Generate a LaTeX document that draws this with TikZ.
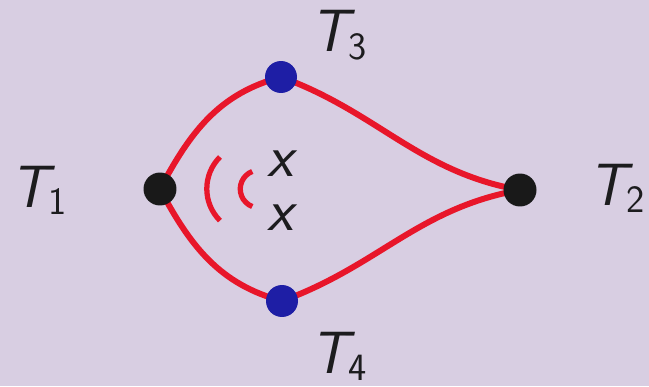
\documentclass[tikz,border=0pt]{standalone}
\usepackage{tikz}
\definecolor{bgviolet}{RGB}{216,206,226}
\definecolor{pathred}{RGB}{232,22,42}
\definecolor{dotblue}{RGB}{30,30,165}
\definecolor{labelgray}{RGB}{28,28,30}
\newcommand{\tsub}[1]{{\itshape T}\raisebox{-4.5pt}{\fontsize{22}{22}\selectfont #1}}

\begin{document}
\begin{tikzpicture}[
  x=0.02cm, y=0.02cm,
  wire/.style={draw=pathred, line width=3.4pt},
  wave/.style={draw=pathred, line width=3pt},
  enddot/.style={circle, fill=black!90, minimum size=0.66cm, inner sep=0pt},
  middot/.style={circle, fill=dotblue, minimum size=0.64cm, inner sep=0pt},
  lbl/.style={text=labelgray, inner sep=0pt, anchor=base west,
              font=\fontsize{34}{40}\selectfont\sffamily}
]
\fill[bgviolet] (0,0) rectangle (649,386);
\useasboundingbox (0,0) rectangle (649,386);
% dots
\coordinate (p1) at (160,197);
\coordinate (p2) at (520,196);
\coordinate (p3) at (281,309);
\coordinate (p4) at (282,85);
% paths
\draw[wire] (p1) to[out=62, in=195] (p3);
\draw[wire] (p3) to[out=-20, in=170] (p2);
\draw[wire] (p1) to[out=-62, in=165] (p4);
\draw[wire] (p4) to[out=20, in=190] (p2);
\node[enddot] (t1) at (p1) {};
\node[enddot] (t2) at (p2) {};
\node[middot] (t3) at (p3) {};
\node[middot] (t4) at (p4) {};
% waves
\coordinate (bigc) at (251.8,197.2);
\coordinate (smallc) at (259,197);
\draw[wave] (bigc) ++(135:45) arc[start angle=135, end angle=225, radius=45];
\draw[wave] (smallc) ++(111:18.75) arc[start angle=111, end angle=249, radius=18.75];
% labels
\node[lbl] (l1) at (10,179) {\tsub{1}};
\node[lbl] (l2) at (588,181) {\tsub{2}};
\node[lbl] (l3) at (310,334) {\tsub{3}};
\node[lbl] (l4) at (310,13) {\tsub{4}};
\node[lbl, anchor=base] (xa) at (280,210) {\itshape x};
\node[lbl, anchor=base] (xb) at (280,156) {\itshape x};
\end{tikzpicture}
\end{document}
